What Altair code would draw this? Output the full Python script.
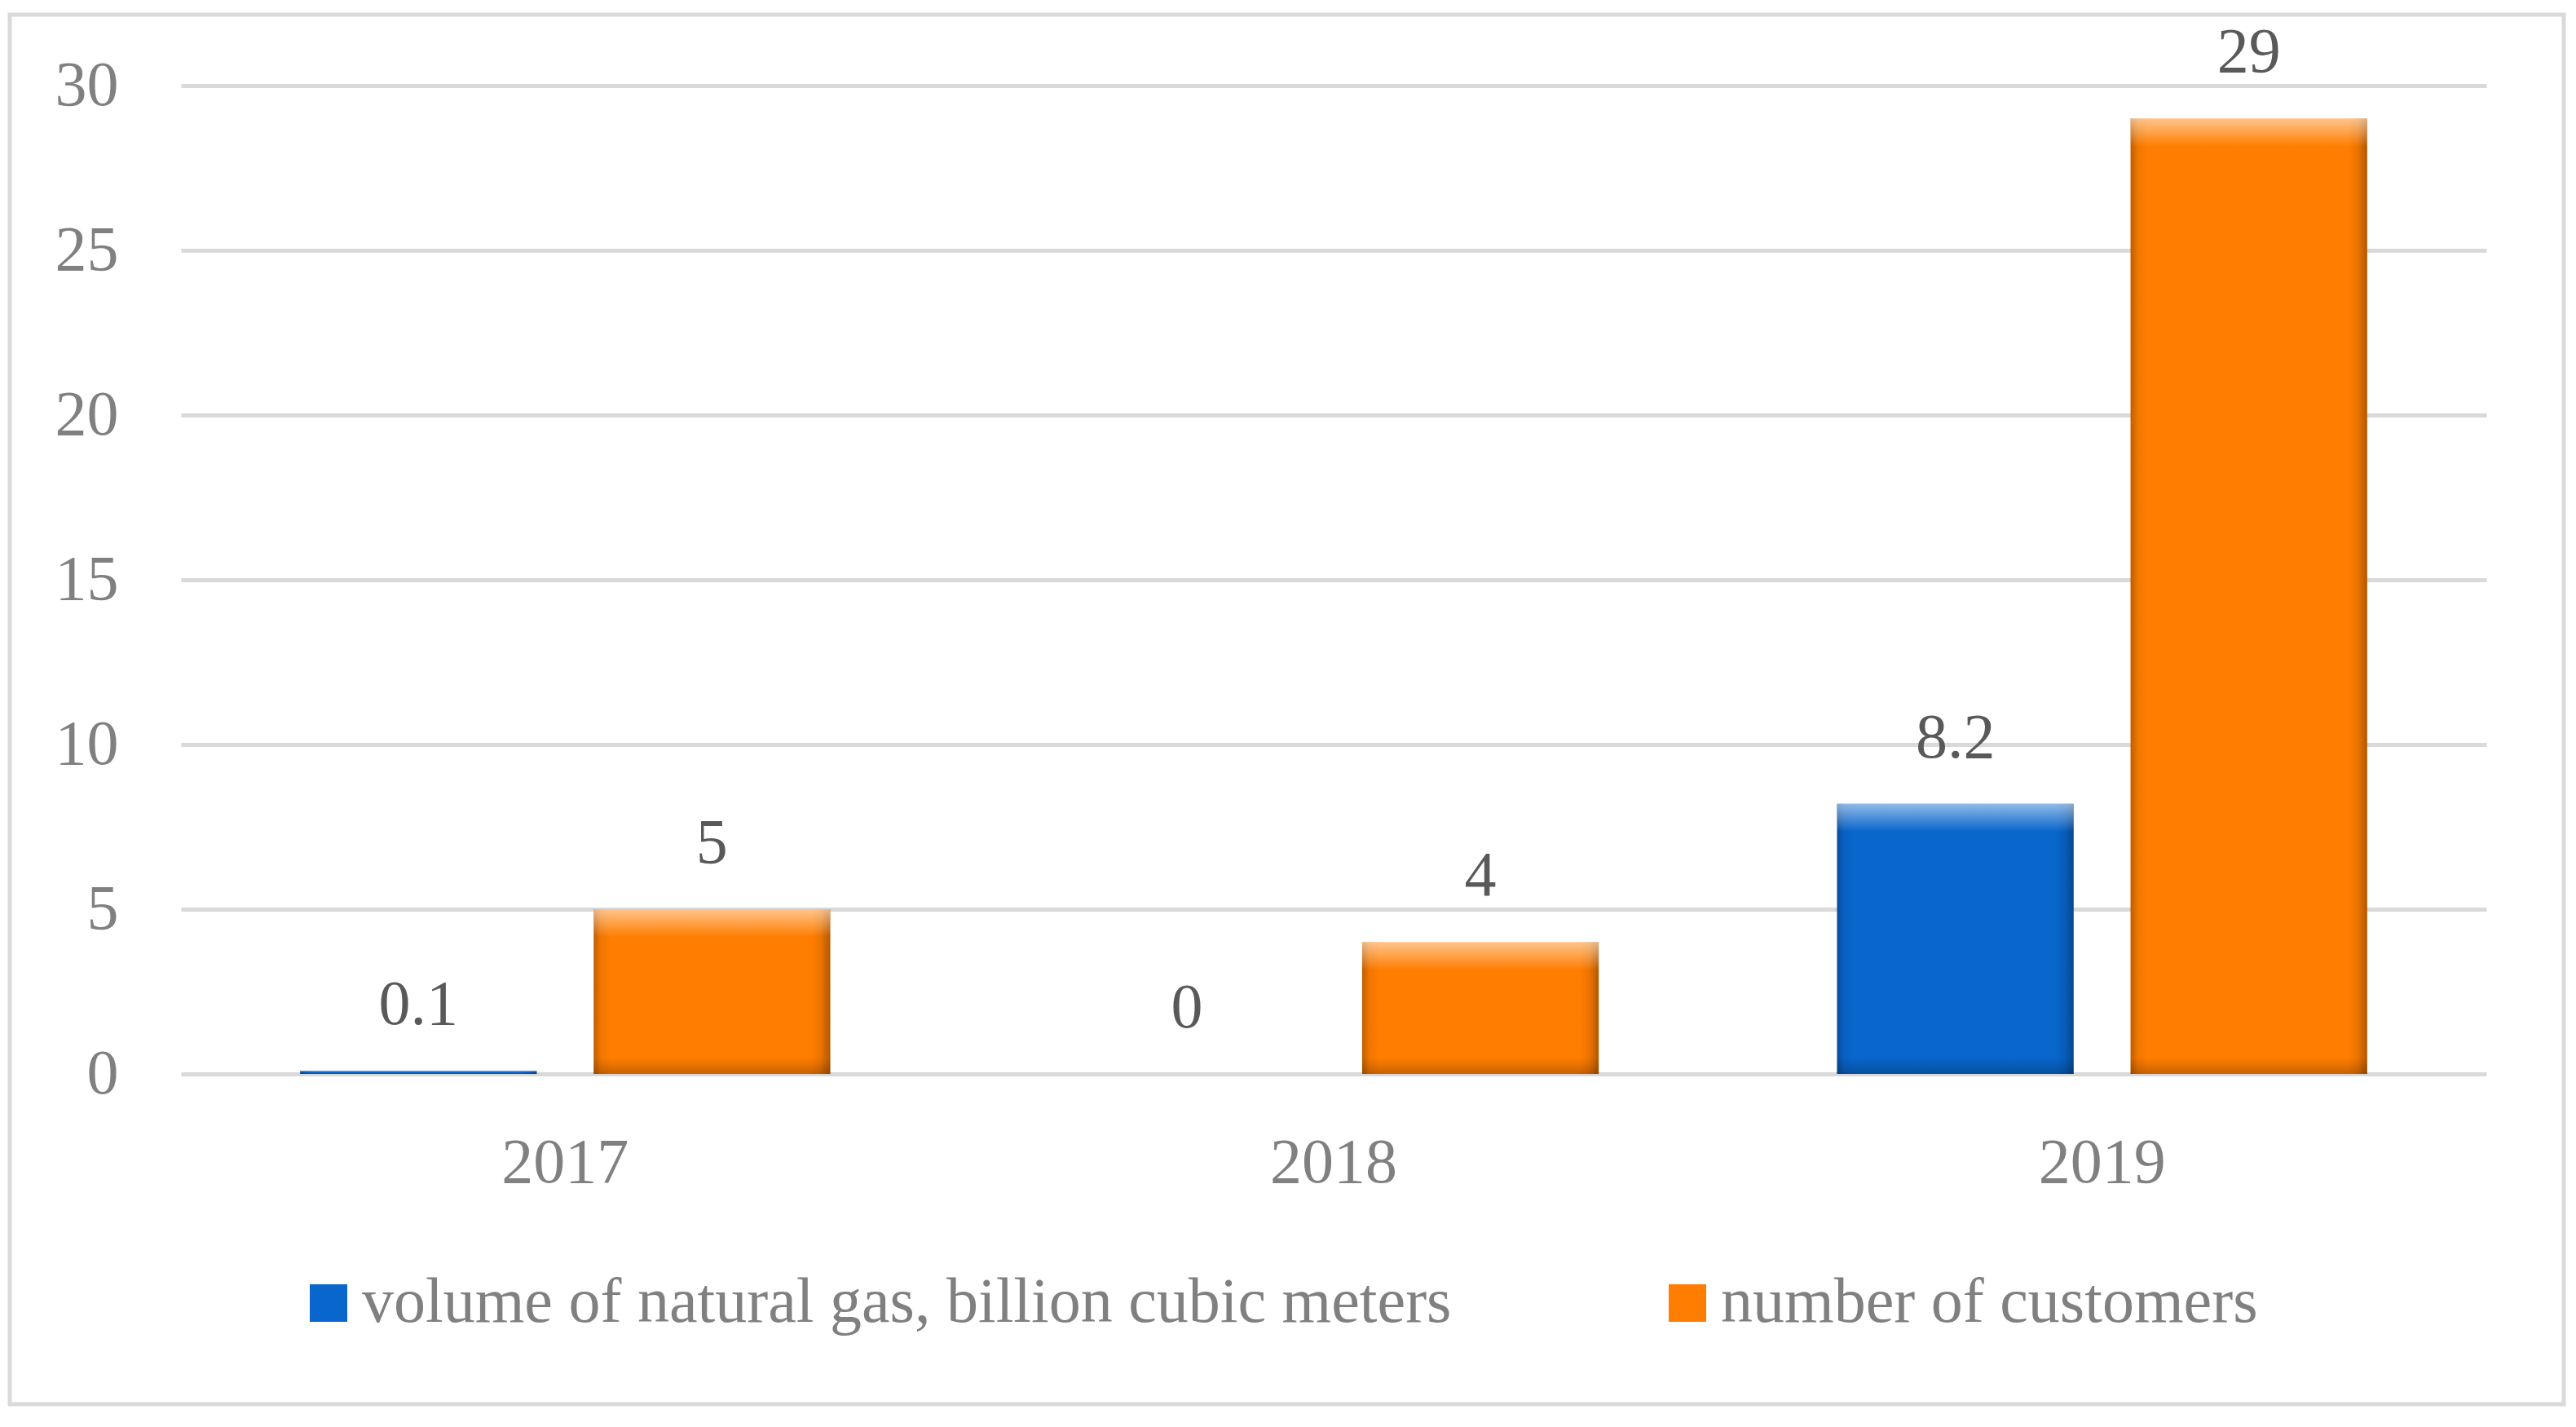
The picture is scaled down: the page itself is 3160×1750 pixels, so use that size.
import altair as alt
import pandas as pd

years = ["2017", "2018", "2019"]
series = ["volume of natural gas, billion cubic meters", "number of customers"]
gas_volume = [0.1, 0, 8.2]
customers = [5, 4, 29]
y_ticks = [0, 5, 10, 15, 20, 25, 30]
colors = ["#0866cc", "#ff7d00"]

rows = []
for i, yr in enumerate(years):
    rows.append({"year": yr, "series": series[0], "value": gas_volume[i]})
    rows.append({"year": yr, "series": series[1], "value": customers[i]})
df = pd.DataFrame(rows)

FONT = "Liberation Serif"
FS = 78
AXIS_GRAY = "#808080"

base = alt.Chart(df).transform_calculate(
    top_bevel="max(datum.value * 0.5, datum.value - 0.85)",
    bottom_bevel="min(datum.value * 0.4, 0.5)",
).encode(
    x=alt.X("year:N", sort=years,
            scale=alt.Scale(paddingInner=0, paddingOuter=0),
            axis=alt.Axis(title=None, labelAngle=0, domain=False, ticks=False,
                          labelPadding=70, labelFontSize=FS, labelFont=FONT,
                          labelColor=AXIS_GRAY, grid=False)),
    xOffset=alt.XOffset("series:N", sort=series,
                        scale=alt.Scale(paddingInner=0.194, paddingOuter=0.406)),
    y=alt.Y("value:Q", scale=alt.Scale(domain=[0, 30], nice=False),
            axis=alt.Axis(title=None, values=y_ticks, domain=False, ticks=False,
                          labelPadding=77, labelFontSize=FS, labelFont=FONT,
                          labelColor=AXIS_GRAY, gridColor="#d9d9d9", gridWidth=5)),
)

bars = base.mark_bar().encode(
    color=alt.Color("series:N", sort=series,
                    scale=alt.Scale(domain=series, range=colors),
                    legend=alt.Legend(orient="none", legendX=142, legendY=1454,
                                      direction="horizontal", title=None,
                                      symbolType="square", symbolSize=2116,
                                      symbolStrokeWidth=0,
                                      labelFontSize=FS, labelFont=FONT,
                                      labelColor=AXIS_GRAY, labelLimit=3000,
                                      columnPadding=250, labelOffset=2,
                                      padding=0))
)

overlay_h = base.mark_bar(
    fill=alt.LinearGradient(
        gradient="linear", x1=0, x2=1, y1=0, y2=0,
        stops=[alt.GradientStop(color="rgba(0,0,0,0.25)", offset=0),
               alt.GradientStop(color="rgba(0,0,0,0.06)", offset=0.03),
               alt.GradientStop(color="rgba(0,0,0,0)", offset=0.07),
               alt.GradientStop(color="rgba(0,0,0,0)", offset=0.92),
               alt.GradientStop(color="rgba(0,0,0,0.08)", offset=0.96),
               alt.GradientStop(color="rgba(0,0,0,0.3)", offset=1)])
)

overlay_top = base.mark_bar(
    fill=alt.LinearGradient(
        gradient="linear", x1=0, x2=0, y1=0, y2=1,
        stops=[alt.GradientStop(color="rgba(255,255,255,0.55)", offset=0),
               alt.GradientStop(color="rgba(255,255,255,0.3)", offset=0.45),
               alt.GradientStop(color="rgba(255,255,255,0)", offset=1)])
).encode(y2="top_bevel:Q")

overlay_bottom = base.mark_bar(
    fill=alt.LinearGradient(
        gradient="linear", x1=0, x2=0, y1=0, y2=1,
        stops=[alt.GradientStop(color="rgba(0,0,0,0)", offset=0),
               alt.GradientStop(color="rgba(0,0,0,0.12)", offset=0.6),
               alt.GradientStop(color="rgba(0,0,0,0.22)", offset=1)])
).encode(y="bottom_bevel:Q", y2=alt.datum(0))

labels = base.mark_text(font=FONT, fontSize=FS, color="#595959",
                        baseline="alphabetic", dy=-57).encode(
    text=alt.Text("value:Q", format="~g")
)

border = alt.Chart(alt.Data(values=[{"b": 1}])).mark_rect(
    filled=False, stroke="#d9d9d9", strokeWidth=5
).encode(
    x=alt.value(-210), x2=alt.value(2923),
    y=alt.value(-87), y2=alt.value(1617)
)

chart = alt.layer(border, bars, overlay_h, overlay_top, overlay_bottom, labels).properties(
    width=2828, height=1212,
    padding={"left": 214, "top": 97, "right": 100, "bottom": 423},
    autosize=alt.AutoSizeParams(type="none"),
    background="white",
).configure_view(stroke=None)

chart.save("out.html", embed_options={"renderer": "svg", "actions": False})
